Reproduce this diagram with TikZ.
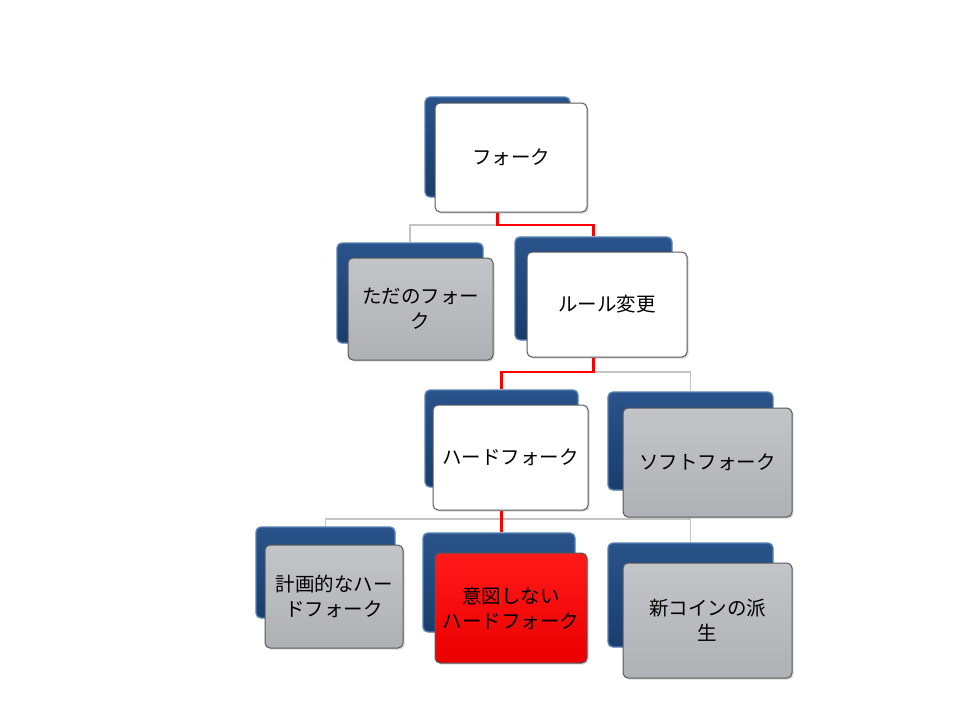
\documentclass[tikz,border=0pt]{standalone}
\usepackage{fontspec}
\newfontfamily\jpfont{Noto Sans CJK JP}
\usetikzlibrary{shadows}
\definecolor{backblue}{RGB}{30,72,128}
\definecolor{backtop}{RGB}{88,128,180}
\definecolor{boxgrey}{RGB}{184,186,190}
\definecolor{linegrey}{RGB}{196,196,196}

\begin{document}
\begin{tikzpicture}[x=1pt,y=-1pt,
size/.style 2 args={minimum width=#1pt, minimum height=#2pt},
back/.style={rounded corners=5pt, draw=backtop, line width=1.4pt,
  top color=backblue!80!backtop, bottom color=backblue!85!black, inner sep=0pt},
front/.style={rounded corners=5pt, draw=black!65, line width=1pt, inner sep=0pt,
  align=center, font=\jpfont\fontsize{19.5}{25}\selectfont,
  drop shadow={shadow xshift=1.5pt, shadow yshift=-1.5pt, opacity=0.3}},
plain/.style={front, fill=white},
grey/.style={front, top color=boxgrey!85!white, bottom color=boxgrey!95!black},
hot/.style={front, top color=red!90!white, bottom color=red!92!black},
link/.style={draw=linegrey, line width=1.8pt},
hotlink/.style={draw=red, line width=2.6pt}]

\useasboundingbox (0,0) rectangle (960,720);

\node[back, size={145}{100}] (forkBack) at (497.5,147) {};
\node[back, size={146}{100}] (tadaBack) at (410,293) {};
\node[back, size={157}{103}] (ruleBack) at (593.5,288.5) {};
\node[back, size={153}{97}] (hardBack) at (501.5,438.5) {};
\node[back, size={165}{98}] (softBack) at (690.5,441) {};
\node[back, size={139}{91}] (planBack) at (325.5,572.5) {};
\node[back, size={152}{99}] (accidBack) at (499,582.5) {};
\node[back, size={165}{104}] (newBack) at (690.5,595) {};

\node[plain, size={152}{109}] (fork) at (511,157.5) {フォーク};
\node[grey, size={145}{102}] (tada) at (420.5,309) {ただのフォー\\ク};
\node[plain, size={160}{105}] (rule) at (607,304.5) {ルール変更};
\node[plain, size={155}{105}] (hard) at (510.5,457.5) {ハードフォーク};
\node[grey, size={169}{109}] (soft) at (707.5,462.5) {ソフトフォーク};
\node[grey, size={138}{103}] (plan) at (334,596.5) {計画的なハー\\ドフォーク};
\node[hot, size={152}{110}] (accid) at (511,608) {意図しない\\ハードフォーク};
\node[grey, size={169}{115}] (new) at (707.5,620.5) {新コインの派\\生};

\coordinate (j1) at (497.5,225);
\coordinate (j2) at (593.5,372);
\coordinate (j3) at (501.5,519);

\draw[link] (j1) -| (tadaBack.north);
\draw[hotlink] (forkBack.center |- fork.south) -- (j1) -| (ruleBack.north);

\draw[link] (j2) -| (softBack.north);
\draw[hotlink] (rule.south -| ruleBack.center) -- (j2) -| (hardBack.north);

\draw[link] (planBack.north) |- (j3) -| (newBack.north);
\draw[hotlink] (hard.south -| hardBack.center) -- (accidBack.north -| hardBack.center);

\end{tikzpicture}
\end{document}
